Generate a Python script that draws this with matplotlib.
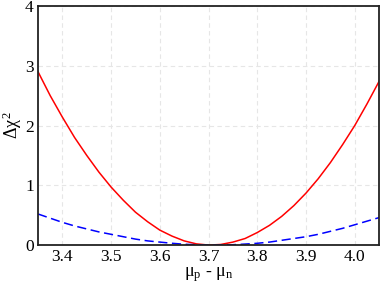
import matplotlib
matplotlib.use("Agg")
import matplotlib.pyplot as plt

mu_diff = [3.350, 3.375, 3.400, 3.425, 3.450, 3.475, 3.500, 3.525, 3.550, 3.575,
           3.600, 3.625, 3.650, 3.675, 3.700, 3.725, 3.750, 3.775, 3.800, 3.825,
           3.850, 3.875, 3.900, 3.925, 3.950, 3.975, 4.000, 4.025, 4.050]
chi2_red = [2.90, 2.50, 2.14, 1.80, 1.50, 1.22, 0.97, 0.75, 0.55, 0.39,
            0.25, 0.15, 0.07, 0.02, 0.00, 0.01, 0.05, 0.11, 0.21, 0.33,
            0.48, 0.66, 0.87, 1.11, 1.38, 1.68, 2.00, 2.36, 2.74]
chi2_blue = [0.52, 0.45, 0.38, 0.32, 0.27, 0.22, 0.18, 0.14, 0.10, 0.07,
             0.05, 0.03, 0.014, 0.005, 0.0, 0.001, 0.006, 0.017, 0.03, 0.05,
             0.08, 0.11, 0.14, 0.18, 0.23, 0.28, 0.34, 0.40, 0.46]
x_ticks = [3.4, 3.5, 3.6, 3.7, 3.8, 3.9, 4.0]
y_ticks = [0, 1, 2, 3, 4]

plt.rcParams['font.family'] = ['Liberation Serif', 'DejaVu Serif']
plt.rcParams['mathtext.fontset'] = 'custom'
plt.rcParams['mathtext.rm'] = 'Liberation Serif'
plt.rcParams['mathtext.it'] = 'Liberation Serif'

fig = plt.figure(figsize=(3.82, 2.83), dpi=100)
ax = fig.add_axes([0.0995, 0.134, 0.893, 0.845])

ax.plot(mu_diff, chi2_red, color='#ff0000', lw=1.1)
ax.plot(mu_diff, chi2_blue, color='#0000ff', lw=1.1, ls=(0, (6, 3)))

ax.set_xlim(3.35, 4.05)
ax.set_ylim(0, 4)
ax.set_xticks(x_ticks)
ax.set_yticks(y_ticks)
ax.set_xticklabels(['%.1f' % v for v in x_ticks])
ax.grid(True, color='#e6e6e6', ls=(0, (4, 3)), lw=0.8)
ax.tick_params(length=0, labelsize=12.5, pad=3)
for s in ax.spines.values():
    s.set_linewidth(1.3)
    s.set_color('#222222')

ax.set_xlabel(r'$\mathrm{\mu_p}$ - $\mathrm{\mu_n}$', fontsize=13, labelpad=0)
ax.set_ylabel(r'$\Delta\chi^2$', fontsize=13, labelpad=1)

fig.savefig('out.png', dpi=100)
